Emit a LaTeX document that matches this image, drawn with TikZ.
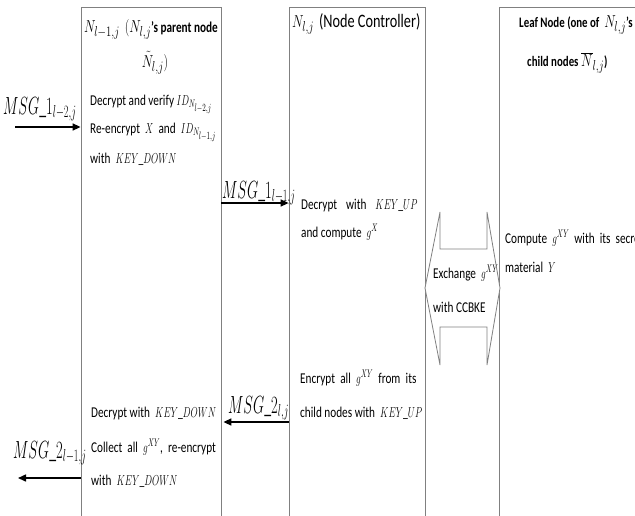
\documentclass[tikz,border=0pt]{standalone}
\usepackage{fontspec}
\setmainfont{Carlito}
\usepackage{graphicx}
\usetikzlibrary{arrows.meta}
\newcommand\nx[1]{\scalebox{0.75}[1]{#1}}
\newcommand\mx[1]{\scalebox{0.86}[1]{$#1$}}
\newcommand\msx[1]{\scalebox{0.78}[1]{$#1$}}
\newcommand\lgm[1]{{\fontsize{19}{20}\selectfont$#1$}}
\begin{document}
\begin{tikzpicture}[x=1pt,y=-1pt,
  box/.style={draw=gray, line width=0.8pt, minimum width=#1, minimum height=540pt, inner sep=0pt, anchor=north},
  txt/.style={anchor=base west, inner sep=0pt, font=\fontsize{15}{18}\selectfont},
  ctr/.style={anchor=base, inner sep=0pt, font=\fontsize{15}{18}\selectfont},
  hdr/.style={anchor=base west, inner sep=0pt, font=\fontsize{14.5}{18}\selectfont\bfseries},
  msg/.style={anchor=base west, inner sep=0pt, font=\fontsize{23.5}{24}\selectfont},
  flow/.style={-{Triangle[length=8pt,width=7pt]}, line width=1.5pt, black},
  xarrow/.style={draw=gray, fill=white, line width=0.8pt}]
\useasboundingbox (0,0) rectangle (635,515);
\clip (0,0) rectangle (635,515);
% boxes
\node[box=140pt] (p) at (151,7) {};
\node[box=136pt] (c) at (357,7) {};
\node[box=221pt] (f) at (609.5,7) {};
% exchange double arrow
\draw[xarrow] (425,288) -- (440,212) -- (440,249) -- (487,249) -- (487,212) -- (500,288)
  -- (487,365) -- (487,327) -- (440,327) -- (440,365) -- cycle;
\node[txt] (ex1) at (433,278) {\nx{Exchange \ \mx{g^{XY}}}};
\node[txt] (ex2) at (433,312) {\nx{with CCBKE}};
% parent box
\node[ctr] (ph1) at (151,32) {\nx{\lgm{N_{l-1,j}}\ \ \lgm{(N_{l,j}}\textbf{'s parent node}}};
\node[ctr] (ph2) at (155,67) {\nx{\lgm{\tilde{N}_{l,j}}\lgm{)}}};
\node[txt] (pt1) at (90,105) {\nx{Decrypt and verify \mx{ID_{N_{\scriptstyle l-2,j}}}}};
\node[txt] (pt2) at (90,133) {\nx{Re-encrypt \ \mx{X} \ and \ \mx{ID_{N_{\scriptstyle l-1,j}}}}};
\node[txt] (pt3) at (90,163) {\nx{with \ \mx{KEY\_DOWN}}};
\node[txt] (pt4) at (91,417) {\nx{Decrypt with \ \mx{KEY\_DOWN}}};
\node[txt] (pt5) at (91,452) {\nx{Collect \ all \ \mx{g^{XY}}, \ re-encrypt}};
\node[txt] (pt6) at (91,485) {\nx{with \ \mx{KEY\_DOWN}}};
% controller box
\node[txt] (ch1) at (292,27) {\nx{\lgm{N_{l,j}}\ \ {\fontsize{19}{20}\selectfont(Node Controller)}}};
\node[txt] (ct1) at (301,209) {\nx{\hbox to 155pt{Decrypt\hfill with\hfill \mx{KEY\_UP}}}};
\node[txt] (ct2) at (301,237) {\nx{and compute \ \mx{g^X}}};
\node[txt] (ct3) at (300,383) {\nx{\hbox to 155pt{Encrypt\hfill all\hfill \mx{g^{XY}}\hfill from\hfill its}}};
\node[txt] (ct4) at (300,417) {\nx{child nodes with \ \mx{KEY\_UP}}};
% leaf box
\node[hdr] (fh1) at (519,27) {\nx{Leaf Node (one of \ \lgm{N_{l,j}}'s}};
\node[hdr] (fh2) at (527,66) {\nx{child nodes \lgm{\overline{N}_{l,j}})}};
\node[txt] (ft1) at (505,243) {\nx{Compute \ \mx{g^{XY}} \ with \ its \ secret}};
\node[txt] (ft2) at (505,272) {\nx{material \ \mx{Y}}};
% messages
\node[msg] (m1) at (3,114) {\nx{\msx{MSG\_1_{l-2,j}}}};
\node[msg] (m2) at (222,198) {\nx{\msx{MSG\_1_{l-1,j}}}};
\node[msg] (m3) at (228,413) {\nx{\msx{MSG\_2_{l,j}}}};
\node[msg] (m4) at (13,458) {\nx{\msx{MSG\_2_{l-1,j}}}};
\coordinate (in1) at (15,127);
\coordinate (out2) at (18,478);
\draw[flow] (in1) -- (in1 -| p.west);
\draw[flow] (p.east |- 0,203) -- (c.west |- 0,203);
\draw[flow, shorten >=2pt] (c.west |- 0,422) -- (p.east |- 0,422);
\draw[flow] (p.west |- 0,478) -- (out2);
\end{tikzpicture}
\end{document}
